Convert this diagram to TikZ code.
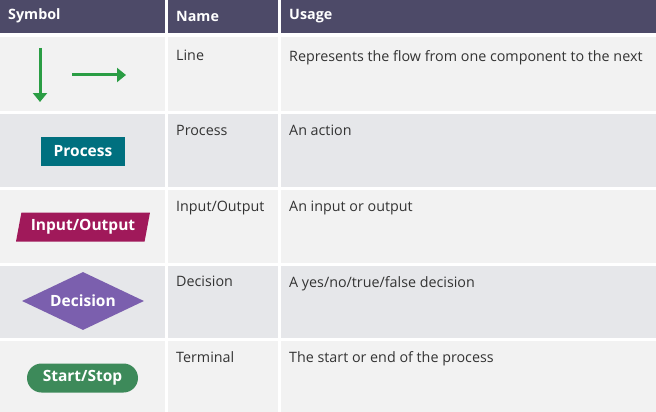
\documentclass[tikz,border=0pt]{standalone}
\usepackage{fontspec}
\setmainfont{Open Sans}
\usetikzlibrary{shapes.geometric,arrows.meta}
\definecolor{hdr}{HTML}{4D4A68}
\definecolor{rowa}{HTML}{F2F2F2}
\definecolor{rowb}{HTML}{E6E7EA}
\definecolor{arr}{HTML}{2A9D44}
\definecolor{proc}{HTML}{00707F}
\definecolor{io}{HTML}{A0195A}
\definecolor{dec}{HTML}{7B5FAE}
\definecolor{term}{HTML}{3D8A5A}
\tikzset{
 txt/.style={anchor=north west,inner sep=0pt,font=\fontsize{14.3}{16}\selectfont,text=black!80},
 htxt/.style={anchor=west,inner sep=0pt,font=\fontsize{14.3}{16}\selectfont\bfseries,text=white},
 sym/.style={text=white,font=\fontsize{15.5}{17}\selectfont\bfseries,inner sep=0pt},
}
\begin{document}
\begin{tikzpicture}[x=1pt,y=-1pt]
\useasboundingbox (0,0) rectangle (656,412);
\fill[white] (0,0) rectangle (656,412);
% header
\fill[hdr] (0,0) rectangle (165,33);
\fill[hdr] (168,0) rectangle (278,33);
\fill[hdr] (281,0) rectangle (656,33);
\node[htxt] (h1) at (8,16) {Symbol};
\node[htxt] (h2) at (176,16) {Name};
\node[htxt] (h3) at (289,16) {Usage};
% rows
\foreach \t/\b/\c in {37/111/rowa,114/187/rowb,190/263/rowa,266/338/rowb,341/412/rowa}{
 \fill[\c] (0,\t) rectangle (165,\b);
 \fill[\c] (168,\t) rectangle (278,\b);
 \fill[\c] (281,\t) rectangle (656,\b);
}
\node[txt] (n1) at (176,50) {Line};
\node[txt] (u1) at (289,50) {Represents the flow from one component to the next};
\node[txt] (n2) at (176,125) {Process};
\node[txt] (u2) at (289,125) {An action};
\node[txt] (n3) at (176,201) {Input/Output};
\node[txt] (u3) at (289,201) {An input or output};
\node[txt] (n4) at (176,276) {Decision};
\node[txt] (u4) at (289,276) {A yes/no/true/false decision};
\node[txt] (n5) at (176,351) {Terminal};
\node[txt] (u5) at (289,351) {The start or end of the process};
% symbols
\coordinate (a1) at (40,48); \coordinate (a2) at (40,102);
\coordinate (b1) at (72,75); \coordinate (b2) at (126,75);
\draw[arr,line width=3pt,-{Triangle[length=9pt,width=14pt]}] (a1) -- (a2);
\draw[arr,line width=3pt,-{Triangle[length=9pt,width=14pt]}] (b1) -- (b2);
\node[sym,fill=proc,minimum width=84pt,minimum height=29pt] (p) at (83,151) {Process};
\node[sym,fill=io,trapezium,trapezium left angle=73,trapezium right angle=107,minimum width=134pt,minimum height=29pt,trapezium stretches=true] (i) at (83,227) {Input/Output};
\node[sym,fill=dec,diamond,minimum width=122pt,minimum height=58pt,shape aspect=2.1] (d) at (83,301) {Decision};
\node[sym,fill=term,rounded corners=14.5pt,minimum width=111pt,minimum height=29pt] (t) at (82.5,378) {Start/Stop};
\end{tikzpicture}
\end{document}
